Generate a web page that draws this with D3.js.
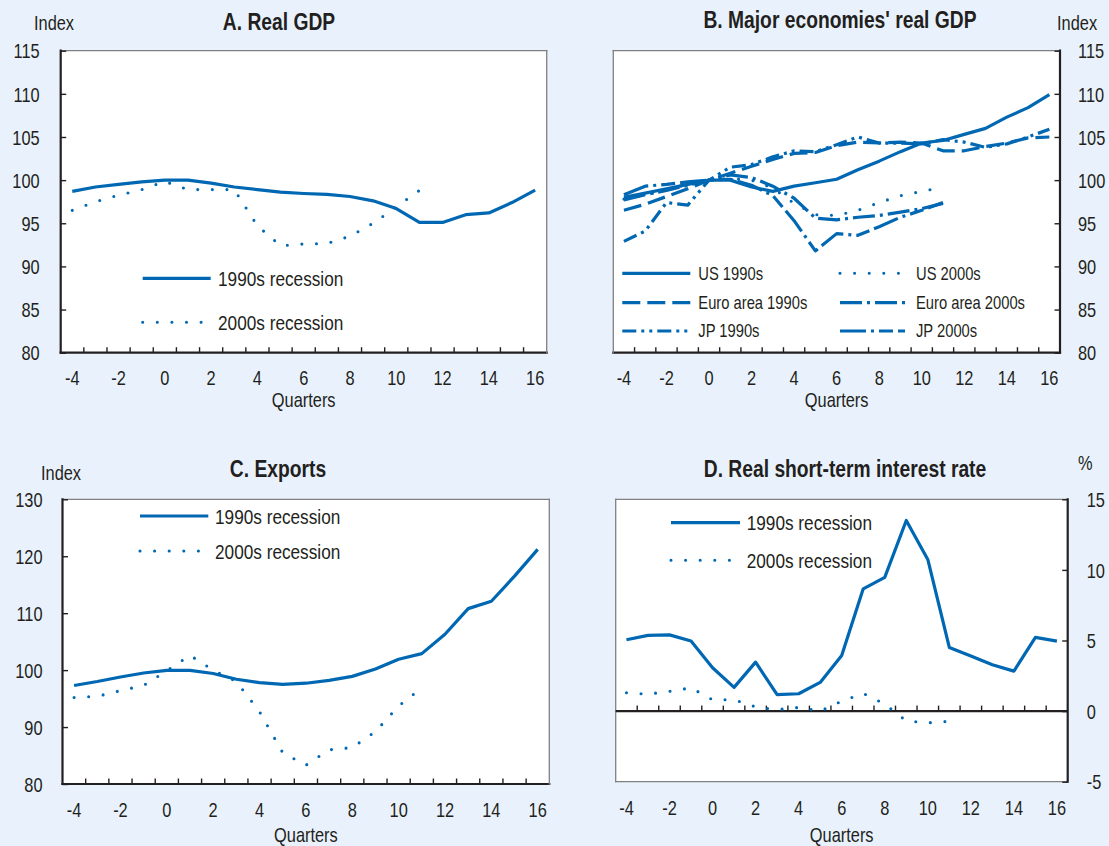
<!DOCTYPE html>
<html>
<head>
<meta charset="utf-8">
<script src="https://cdn.jsdelivr.net/npm/d3@7"></script>
<style>
  html, body { margin: 0; padding: 0; background: #e9f2fc; }
  svg { display: block; }
  text { fill: #231f20; font-family: "Liberation Sans Narrow", "Arial Narrow", "Liberation Sans", Arial, sans-serif; }
</style>
</head>
<body>
<svg id="chart" width="1109" height="846"></svg>
<script>
// Quarters relative to the start of the recession
const quarters = [-4, -3, -2, -1, 0, 1, 2, 3, 4, 5, 6, 7, 8, 9, 10, 11, 12, 13, 14, 15, 16];
const quarterLabels = [-4, -2, 0, 2, 4, 6, 8, 10, 12, 14, 16];

// A. Real GDP (index, quarter 0 = 100)
const gdp1990s = [98.7, 99.2, 99.5, 99.8, 100, 100, 99.65, 99.2, 98.9, 98.6, 98.45, 98.35, 98.1, 97.6, 96.7, 95.1, 95.1, 96.0, 96.2, 97.4, 98.85];
const gdp2000s = [96.5, 97.5, 98.25, 98.9, 99.85, 98.9, 98.9, 98.9, 94.7, 92.4, 92.6, 92.65, 93.5, 95.0, 96.9, 98.8];
const gdpTicks = [80, 85, 90, 95, 100, 105, 110, 115];

// B. Major economies' real GDP
const us1990s = [98.0, 98.5, 99.0, 99.5, 100, 100.0, 99.2, 98.7, 99.3, 99.7, 100.1, 101.2, 102.2, 103.3, 104.3, 104.6, 105.3, 106.0, 107.3, 108.4, 109.9];
const us2000s = [97.8, 98.3, 98.9, 99.5, 100, 100.2, 100.0, 99.1, 97.3, 96.0, 95.9, 96.5, 97.4, 98.2, 98.7, 99.2];
const euro1990s = [96.5, 97.2, 98.1, 99.0, 100, 100.8, 101.6, 102.4, 103.1, 103.2, 104.0, 104.4, 104.3, 104.4, 104.3, 103.4, 103.4, 103.9, 104.3, 104.9, 105.0];
const euro2000s = [97.7, 98.3, 98.8, 99.4, 100, 100.6, 100.3, 99.3, 97.9, 95.6, 95.4, 95.7, 95.9, 96.3, 96.7, 97.3];
const jp1990s = [92.9, 94.1, 97.4, 97.1, 100, 101.5, 101.8, 102.7, 103.4, 103.3, 104.1, 105.0, 104.3, 104.3, 104.2, 104.7, 104.4, 103.8, 104.2, 105.0, 105.9];
const jp2000s = [98.3, 99.3, 99.5, 99.8, 100, 100.1, 99.4, 98.2, 95.3, 91.8, 93.8, 93.6, 94.6, 95.7, 96.5, 97.4];

// C. Exports (index)
const exports1990s = [97.3, 98.0, 98.8, 99.5, 99.95, 99.95, 99.4, 98.4, 97.8, 97.5, 97.7, 98.2, 98.9, 100.2, 101.9, 102.9, 106.3, 110.8, 112.1, 116.5, 121.2];
const exports2000s = [95.2, 95.4, 96.4, 97.3, 99.9, 102.6, 100.0, 98.0, 92.7, 85.5, 83.3, 86.0, 86.4, 89.2, 93.7, 96.9];
const exportTicks = [80, 90, 100, 110, 120, 130];

// D. Real short-term interest rate (%)
const rate1990s = [5.05, 5.36, 5.4, 4.96, 3.07, 1.68, 3.47, 1.16, 1.23, 2.03, 3.94, 8.66, 9.47, 13.5, 10.74, 4.51, 3.9, 3.28, 2.83, 5.22, 4.96];
const rate2000s = [1.3, 1.2, 1.4, 1.65, 0.8, 0.8, 0.3, 0.1, 0.26, 0.0, 0.7, 1.25, 0.5, -0.7, -0.83, -0.72];
const rateTicks = [-5, 0, 5, 10, 15];

const legendRecession = ["1990s recession", "2000s recession"];
const legendMajor = ["US 1990s", "US 2000s", "Euro area 1990s", "Euro area 2000s", "JP 1990s", "JP 2000s"];

const BLUE = "#0068b3";
const INK = "#231f20";
const FRAME = "#808080";
const FS = 20;
const svg = d3.select("#chart");
const plain = d => String(d);   // hyphen-minus, as printed

const STYLES = {
  solid: { dash: null, cap: "butt", width: 3.2 },
  dotted: { dash: "0,14.6", cap: "round", width: 3.1 },
  dashed: { dash: "18,7", cap: "butt", width: 3.2 },
  dashDot: { dash: "22,5,3,5", cap: "butt", width: 3.2 },
  dashDotDot: { dash: "14,5,3,5,3,5", cap: "butt", width: 3.2 },
  longDashDot: { dash: "26,5,3,5,14,5", cap: "butt", width: 3.2 }
};

function styled(sel, st) {
  return sel.attr("fill", "none")
    .attr("stroke", BLUE)
    .attr("stroke-width", st.width)
    .attr("stroke-linecap", st.cap)
    .attr("stroke-linejoin", "round")
    .attr("stroke-dasharray", st.dash);
}

function panel(cfg) {
  const g = svg.append("g");
  const x = d3.scaleBand().domain(quarters).range(cfg.xr).paddingInner(0).paddingOuter(0);
  const cx = q => x(q) + x.bandwidth() / 2;
  const y = d3.scaleLinear().domain(cfg.yd).range(cfg.yr);
  const [x0, x1] = cfg.xr;
  const [yb, yt] = cfg.yr;

  g.append("rect").attr("x", x0).attr("y", yt).attr("width", x1 - x0).attr("height", yb - yt).attr("fill", "#fff");

  // frame: thin grey on the free sides, dark on the axis sides
  const edges = {
    top: [x0, yt, x1, yt],
    bottom: [x0, yb, x1, yb],
    left: [x0, yt, x0, yb],
    right: [x1, yt, x1, yb]
  };
  Object.entries(edges).forEach(([k, e]) => {
    const dark = cfg.dark.includes(k);
    g.append("line").attr("x1", e[0]).attr("y1", e[1]).attr("x2", e[2]).attr("y2", e[3])
      .attr("stroke", dark ? INK : FRAME).attr("stroke-width", dark ? 2.2 : 1.3)
      .attr("stroke-linecap", "square");
  });

  // horizontal base line carrying the quarter ticks
  const baseY = cfg.baseValue !== undefined ? y(cfg.baseValue) : yb;
  if (cfg.baseValue !== undefined) {
    g.append("line").attr("x1", x0).attr("x2", x1).attr("y1", baseY).attr("y2", baseY)
      .attr("stroke", INK).attr("stroke-width", 2.2);
  }
  g.append("g").selectAll("line").data(quarters.slice(1)).join("line")
    .attr("x1", d => x(d)).attr("x2", d => x(d))
    .attr("y1", baseY).attr("y2", baseY - 5.5)
    .attr("stroke", INK).attr("stroke-width", 1.4);

  // quarter labels
  const xa = g.append("g").attr("transform", `translate(0,${cfg.xLabelY})`)
    .call(d3.axisBottom(x).tickValues(quarterLabels).tickSize(0).tickPadding(0).tickFormat(plain));
  xa.select(".domain").remove();
  xa.attr("font-family", null).attr("font-size", null);
  xa.selectAll("text").attr("y", 0).attr("dy", 0).attr("font-size", FS).style("fill", INK);
  g.append("text").attr("x", (x0 + x1) / 2).attr("y", cfg.xTitleY).attr("text-anchor", "middle")
    .attr("font-size", FS).text("Quarters");

  // value axis
  const axis = cfg.yRight ? d3.axisRight(y) : d3.axisLeft(y);
  const ya = g.append("g").attr("transform", `translate(${cfg.yRight ? x1 : x0},0)`)
    .call(axis.tickValues(cfg.yTicks).tickSize(-5.5).tickPadding(cfg.yPad).tickFormat(plain));
  ya.select(".domain").remove();
  ya.attr("font-family", null).attr("font-size", null);
  ya.selectAll("line").attr("stroke", INK).attr("stroke-width", 1.4);
  ya.selectAll("text").attr("dy", "0.36em").attr("font-size", FS).style("fill", INK);

  // titles
  g.append("text").attr("x", cfg.titleX).attr("y", cfg.titleY).attr("text-anchor", "middle")
    .attr("font-size", 23.5).attr("font-weight", "bold").text(cfg.title);
  g.append("text").attr("x", cfg.unitX).attr("y", cfg.unitY).attr("font-size", FS).text(cfg.unit);

  // series
  const line = d3.line().x((d, i) => cx(quarters[i])).y(d => y(d));
  cfg.series.forEach(s => {
    styled(g.append("path").datum(s.values).attr("d", line), STYLES[s.style]);
  });

  return { g, x, y };
}

function recessionLegend(g, lx0, lx1, ys, textX, fontSize) {
  const styles = ["solid", "dotted"];
  legendRecession.forEach((name, i) => {
    styled(g.append("path").attr("d", d3.line()([[lx0, ys[i]], [lx1, ys[i]]])), STYLES[styles[i]]);
    g.append("text").attr("x", textX).attr("y", ys[i]).attr("dy", "0.36em").attr("font-size", fontSize).text(name);
  });
}

// Panel A
const pA = panel({
  xr: [60.7, 546.7], yr: [352.7, 50.7], yd: [80, 115], yTicks: gdpTicks, yPad: 21, yRight: false,
  dark: ["left", "bottom"], xLabelY: 385, xTitleY: 407,
  title: "A. Real GDP", titleX: 279, titleY: 30, unit: "Index", unitX: 34, unitY: 30,
  series: [{ values: gdp1990s, style: "solid" }, { values: gdp2000s, style: "dotted" }]
});
recessionLegend(pA.g, 142.7, 210.7, [278.3, 322.3], 218, 21);

// Panel B
const pB = panel({
  xr: [613.3, 1060], yr: [352.7, 50.7], yd: [80, 115], yTicks: gdpTicks, yPad: 18, yRight: true,
  dark: ["right", "bottom"], xLabelY: 385, xTitleY: 407,
  title: "B. Major economies' real GDP", titleX: 840, titleY: 28.5, unit: "Index", unitX: 1057, unitY: 30,
  series: [
    { values: jp1990s, style: "dashDotDot" },
    { values: euro1990s, style: "dashed" },
    { values: jp2000s, style: "longDashDot" },
    { values: euro2000s, style: "dashDot" },
    { values: us2000s, style: "dotted" },
    { values: us1990s, style: "solid" }
  ]
});
const majorStyles = ["solid", "dotted", "dashed", "dashDot", "dashDotDot", "longDashDot"];
const colLine = [[622.3, 690.3], [840, 905]];
const colText = [698.3, 916];
const rowY = [273.3, 302.7, 331];
legendMajor.forEach((name, i) => {
  const c = i % 2, r = Math.floor(i / 2);
  styled(pB.g.append("path").attr("d", d3.line()([[colLine[c][0], rowY[r]], [colLine[c][1], rowY[r]]])), STYLES[majorStyles[i]]);
  pB.g.append("text").attr("x", colText[c]).attr("y", rowY[r]).attr("dy", "0.36em").attr("font-size", 18).text(name);
});

// Panel C
const pC = panel({
  xr: [62.5, 549.3], yr: [784, 499.3], yd: [80, 130], yTicks: exportTicks, yPad: 20, yRight: false,
  dark: ["left", "bottom"], xLabelY: 817, xTitleY: 842,
  title: "C. Exports", titleX: 278, titleY: 477, unit: "Index", unitX: 41, unitY: 480,
  series: [{ values: exports1990s, style: "solid" }, { values: exports2000s, style: "dotted" }]
});
recessionLegend(pC.g, 140, 208.3, [516, 551], 215, 21);

// Panel D
const pD = panel({
  xr: [615.7, 1067.7], yr: [781.7, 499.3], yd: [-5, 15], yTicks: rateTicks, yPad: 19, yRight: true,
  dark: ["right"], baseValue: 0, xLabelY: 815, xTitleY: 842,
  title: "D. Real short-term interest rate", titleX: 845, titleY: 477, unit: "%", unitX: 1078, unitY: 470,
  series: [{ values: rate1990s, style: "solid" }, { values: rate2000s, style: "dotted" }]
});
recessionLegend(pD.g, 671, 740, [522.7, 560.3], 746.7, 21);

// Without an installed narrow face, condense the regular face horizontally instead
(function ensureNarrow() {
  const probe = fam => {
    const t = svg.append("text").style("font-family", fam).attr("font-size", 40).text("Quarters 1990s recession");
    const w = t.node().getComputedTextLength();
    t.remove();
    return w;
  };
  const hasNarrow = Math.abs(probe('"Liberation Sans Narrow", monospace') - probe("monospace")) > 0.5;
  if (hasNarrow) return;
  svg.selectAll("text").each(function () {
    const el = d3.select(this);
    el.style("font-family", '"Liberation Sans", Arial, sans-serif');
    const x = +el.attr("x") || 0;
    const prev = el.attr("transform") || "";
    el.attr("transform", `${prev} translate(${x},0) scale(0.82,1) translate(${-x},0)`.trim());
  });
})();
</script>
</body>
</html>
